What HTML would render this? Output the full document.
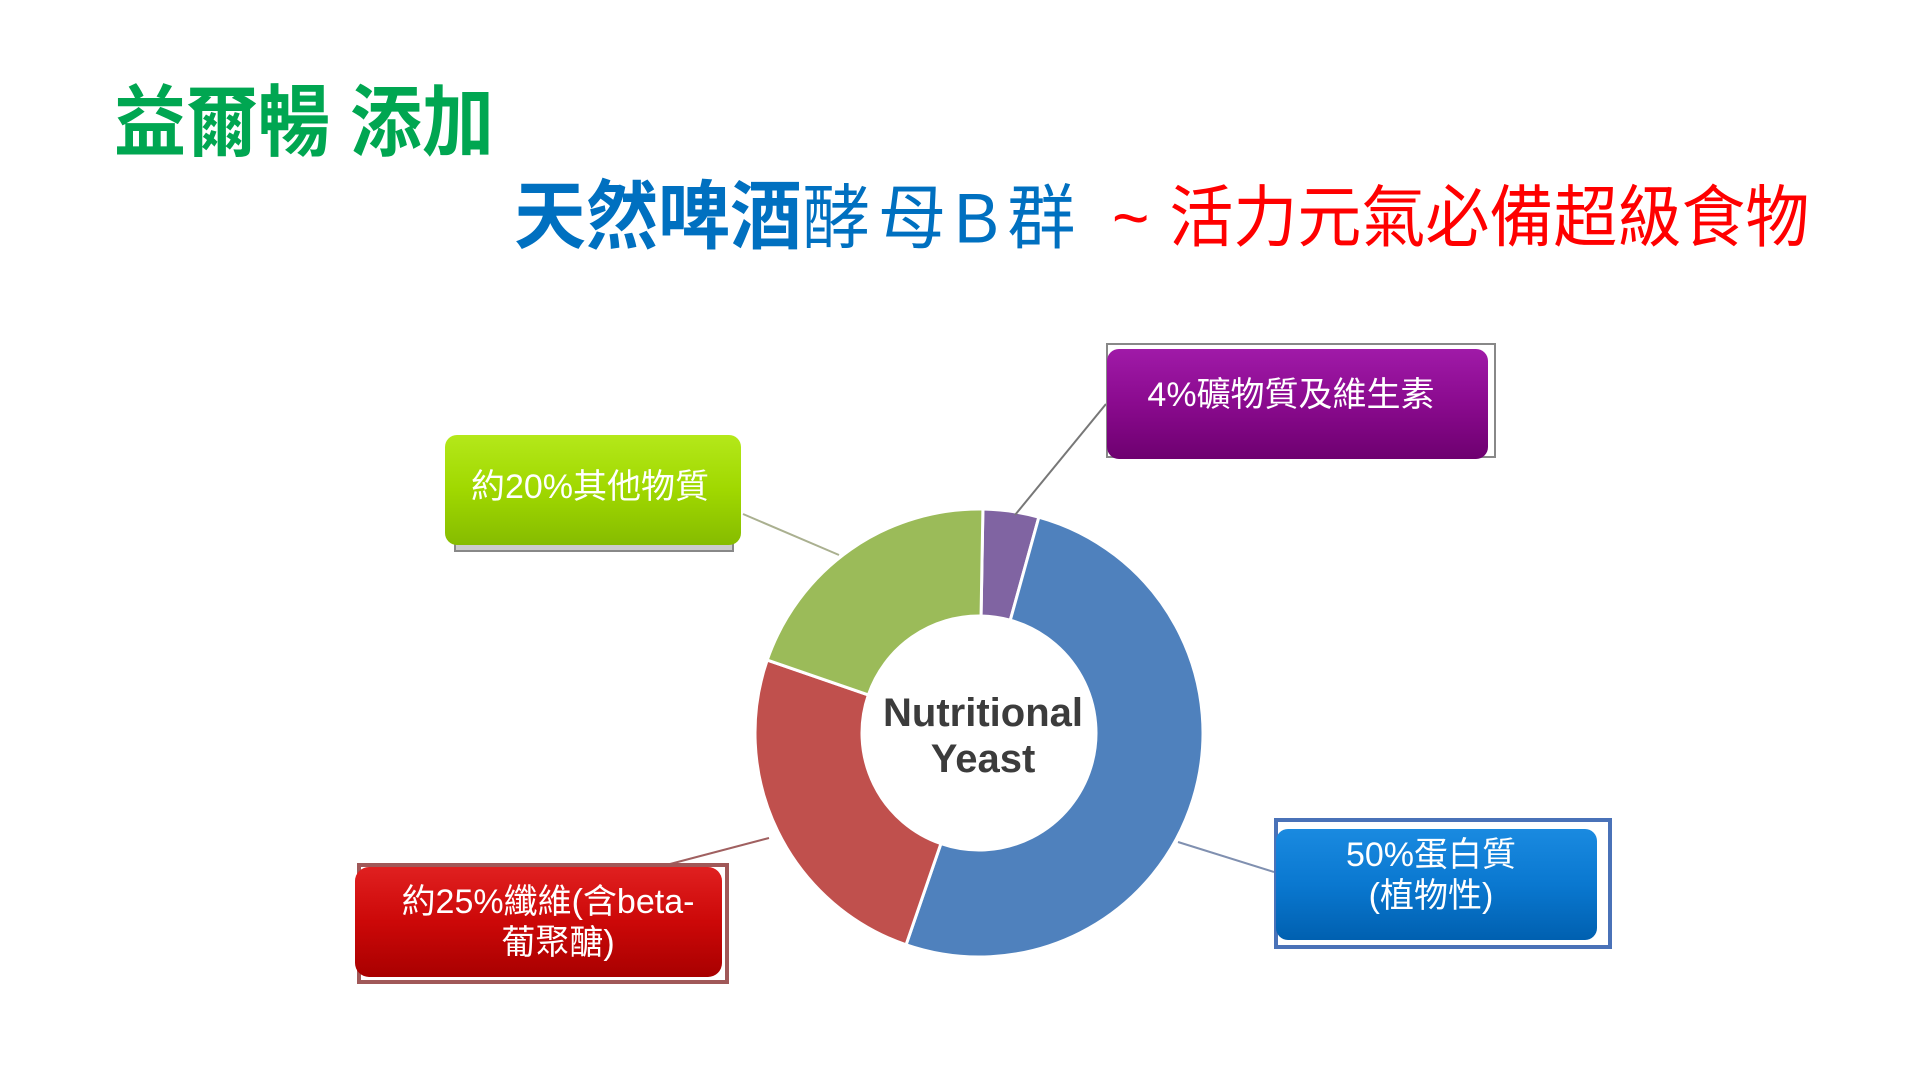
<!DOCTYPE html>
<html><head><meta charset="utf-8">
<style>
html,body{margin:0;padding:0;background:#fff;}
body{width:1920px;height:1080px;overflow:hidden;position:relative;font-family:"Liberation Sans","Noto Sans CJK TC",sans-serif;}
.t1{position:absolute;left:114px;top:77px;font-size:72px;font-weight:bold;color:#00a651;white-space:nowrap;line-height:1.2;transform:scaleY(1.08);transform-origin:0 0;}
.t2{position:absolute;left:514px;top:180px;font-size:72px;white-space:nowrap;line-height:1;transform:scaleY(1.04);transform-origin:0 0;}
.b{color:#0070c0;font-weight:bold;}
.bl{color:#0070c0;letter-spacing:8px;font-size:68px;}
.t3{position:absolute;left:1112px;top:184px;font-size:64px;white-space:nowrap;line-height:1;color:#ff0000;transform:scaleY(1.06);transform-origin:0 0;}
.r{margin-left:20px;}
</style></head><body>
<div class="t1">益爾暢 添加</div>
<div class="t2"><span class="b">天然啤酒</span><span class="bl">酵母B群</span></div>
<div class="t3">~<span class="r">活力元氣必備超級食物</span></div>
<svg id="s" width="1920" height="1080" style="position:absolute;left:0;top:0">
<defs>
<linearGradient id="gp" x1="0" y1="0" x2="0" y2="1"><stop offset="0" stop-color="#a01aa8"/><stop offset="0.5" stop-color="#8a0a8e"/><stop offset="1" stop-color="#6e0070"/></linearGradient>
<linearGradient id="gg" x1="0" y1="0" x2="0" y2="1"><stop offset="0" stop-color="#b4e81a"/><stop offset="0.5" stop-color="#a0d800"/><stop offset="1" stop-color="#86bc00"/></linearGradient>
<linearGradient id="gr" x1="0" y1="0" x2="0" y2="1"><stop offset="0" stop-color="#e02020"/><stop offset="0.5" stop-color="#cc0808"/><stop offset="1" stop-color="#a80000"/></linearGradient>
<linearGradient id="gb" x1="0" y1="0" x2="0" y2="1"><stop offset="0" stop-color="#1a8ae0"/><stop offset="0.5" stop-color="#0a78d0"/><stop offset="1" stop-color="#0060b0"/></linearGradient>
</defs>
<g id="donut"></g>
<line x1="1015" y1="515" x2="1106" y2="404" stroke="#777" stroke-width="2"/>
<line x1="743" y1="514" x2="839" y2="555" stroke="#aab090" stroke-width="2"/>
<line x1="670" y1="864" x2="769" y2="838" stroke="#a06060" stroke-width="2"/>
<line x1="1178" y1="842" x2="1274" y2="872" stroke="#8090b0" stroke-width="2"/>
<rect x="1107" y="344" width="388" height="113" fill="none" stroke="#888" stroke-width="2"/>
<rect x="1107" y="349" width="381" height="110" rx="12" fill="url(#gp)"/>
<text x="1291" y="406" fill="#fff" font-size="34" text-anchor="middle" font-family="Liberation Sans, Noto Sans CJK TC, sans-serif">4%礦物質及維生素</text>
<rect x="455" y="440" width="278" height="111" fill="#ccc" stroke="#888" stroke-width="2"/>
<rect x="445" y="435" width="296" height="110" rx="12" fill="url(#gg)"/>
<text x="590" y="498" fill="#fff" font-size="34" text-anchor="middle" font-family="Liberation Sans, Noto Sans CJK TC, sans-serif">約20%其他物質</text>
<rect x="359" y="865" width="368" height="117" fill="#fff" stroke="#a05858" stroke-width="4"/>
<rect x="355" y="867" width="367" height="110" rx="14" fill="url(#gr)"/>
<text x="548" y="913" fill="#fff" font-size="34" text-anchor="middle" font-family="Liberation Sans, Noto Sans CJK TC, sans-serif">約25%纖維(含beta-</text>
<text x="558" y="954" fill="#fff" font-size="34" text-anchor="middle" font-family="Liberation Sans, Noto Sans CJK TC, sans-serif">葡聚醣)</text>
<rect x="1276" y="820" width="334" height="127" fill="none" stroke="#4a72b8" stroke-width="4"/>
<rect x="1276" y="829" width="321" height="111" rx="12" fill="url(#gb)"/>
<text x="1431" y="866" fill="#fff" font-size="34" text-anchor="middle" font-family="Liberation Sans, Noto Sans CJK TC, sans-serif">50%蛋白質</text>
<text x="1431" y="907" fill="#fff" font-size="34" text-anchor="middle" font-family="Liberation Sans, Noto Sans CJK TC, sans-serif">(植物性)</text>
<text x="983" y="726" fill="#3c3c3c" font-size="40" font-weight="bold" text-anchor="middle" font-family="Liberation Sans, sans-serif">Nutritional</text>
<text x="983" y="772" fill="#3c3c3c" font-size="40" font-weight="bold" text-anchor="middle" font-family="Liberation Sans, sans-serif">Yeast</text>
</svg>
<script>
(function(){
var cx=979,cy=733,R=224,r=117;
function p(a,rad){a=a*Math.PI/180;return [cx+rad*Math.sin(a),cy-rad*Math.cos(a)];}
function seg(a0,a1,c){var L=(a1-a0)>180?1:0;var A=p(a0,R),B=p(a1,R),C=p(a1,r),D=p(a0,r);
return '<path d="M'+A+' A'+R+','+R+' 0 '+L+' 1 '+B+' L'+C+' A'+r+','+r+' 0 '+L+' 0 '+D+' Z" fill="'+c+'" stroke="#fff" stroke-width="3"/>';}
document.getElementById('donut').innerHTML=
seg(1,15.5,'#8064a2')+seg(15.5,199,'#4f81bd')+seg(199,289,'#c0504d')+seg(289,361,'#9bbb59');
})();
</script>
</body></html>
